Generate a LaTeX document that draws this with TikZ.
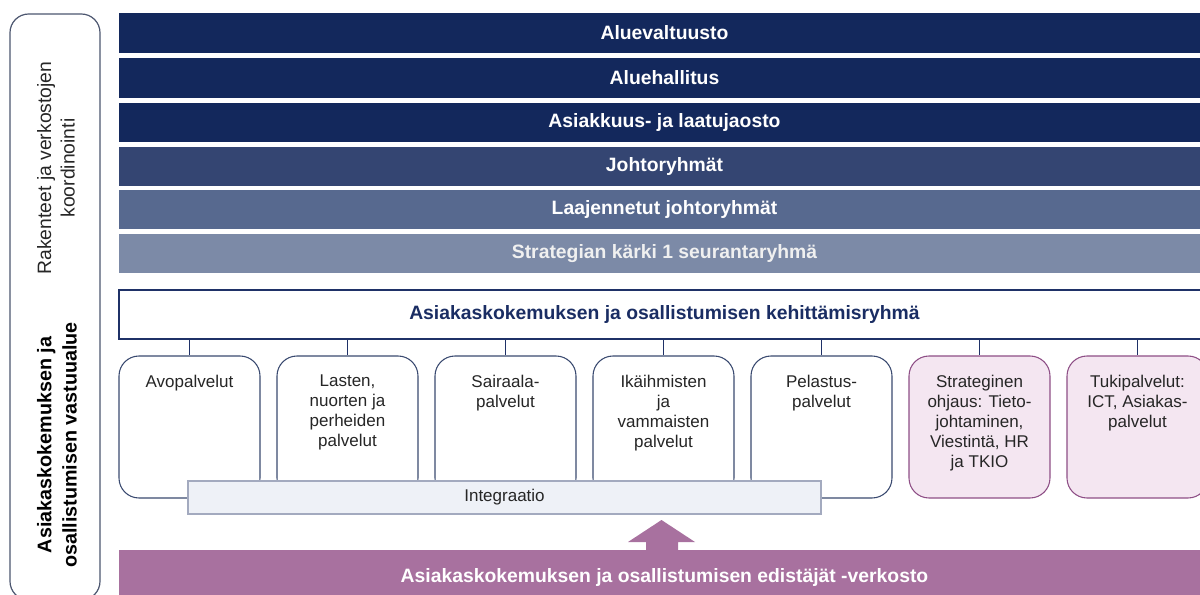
\documentclass[tikz,border=0pt]{standalone}
\usepackage{fontspec}
\setmainfont{Liberation Sans}
\definecolor{navyA}{HTML}{13285C}
\definecolor{navyB}{HTML}{344572}
\definecolor{navyC}{HTML}{57698F}
\definecolor{navyD}{HTML}{7C8AA7}
\definecolor{devline}{HTML}{1F3167}
\definecolor{devtext}{HTML}{1A2D63}
\definecolor{boxline}{HTML}{3A4A70}
\definecolor{purpbar}{HTML}{A8719F}
\definecolor{purpfill}{HTML}{F4E6F1}
\definecolor{purpline}{HTML}{8E4F86}
\definecolor{intfill}{HTML}{EEF1F7}
\definecolor{intline}{HTML}{A3AABF}
\definecolor{leftline}{HTML}{4C566F}
\definecolor{textgray}{HTML}{262626}
\begin{document}
\begin{tikzpicture}[x=0.75pt,y=-0.75pt,
  bar/.style={rectangle, minimum width=818.25pt, minimum height=29.6pt, inner sep=0pt, text=white, font=\bfseries\fontsize{14.5}{17}\selectfont},
  svc/.style={draw=boxline, line width=0.8pt, rounded corners=15pt, fill=white, minimum width=105.75pt, minimum height=106.5pt, inner sep=0pt},
  svcp/.style={svc, draw=purpline, fill=purpfill},
  stxt/.style={anchor=north, align=center, inner sep=0pt, font=\fontsize{12.75}{15}\selectfont, text=textgray},
  conn/.style={draw=devline, line width=0.9pt}
]
\useasboundingbox (0,0) rectangle (1200,595);
\clip (0,0) rectangle (1200,595);

% left frame
\draw[leftline, line width=0.9pt, rounded corners=14pt] (10,14) rectangle (100,600);
\node[rotate=90, align=center, inner sep=0pt, text=textgray, font=\fontsize{14.5}{17.5}\selectfont] (lefttop) at (56,168) {Rakenteet ja verkostojen\\koordinointi};
\node[rotate=90, align=center, inner sep=0pt, text=black, font=\bfseries\fontsize{14.8}{19}\selectfont] (leftbot) at (57,445) {Asiakaskokemuksen ja\\osallistumisen vastuualue};

% bars
\node[bar, fill=navyA, minimum height=30pt] (b1) at (664.5,33) {Aluevaltuusto};
\node[bar, fill=navyA, minimum height=30pt] (b2) at (664.5,78) {Aluehallitus};
\node[bar, fill=navyA] (b3) at (664.5,122.5) {Asiakkuus- ja laatujaosto};
\node[bar, fill=navyB] (b4) at (664.5,166.5) {Johtoryhmät};
\node[bar, fill=navyC] (b5) at (664.5,209.5) {Laajennetut johtoryhmät};
\node[bar, fill=navyD, text=white!94!black] (b6) at (664.5,253.5) {Strategian kärki 1 seurantaryhmä};

% development group
\node[draw=devline, line width=1.1pt, fill=white, minimum width=818.25pt, minimum height=36.75pt, inner sep=0pt, text=devtext, font=\bfseries\fontsize{14.5}{17}\selectfont] (dev) at (664.5,314.5) {Asiakaskokemuksen ja osallistumisen kehittämisryhmä};

% service boxes
\node[svc] (s1) at (189.5,427) {};
\node[svc] (s2) at (347.5,427) {};
\node[svc] (s3) at (505.5,427) {};
\node[svc] (s4) at (663.5,427) {};
\node[svc] (s5) at (821.5,427) {};
\node[svcp] (s6) at (979.5,427) {};
\node[svcp] (s7) at (1137.5,427) {};

\foreach \s in {s1,s2,s3,s4,s5,s6,s7}{
  \draw[conn] (dev.south -| \s.north) -- (\s.north);
}

\node[stxt] (t1) at ([yshift=-14.25pt]s1.north) {Avopalvelut};
\node[stxt] (t2) at ([yshift=-14.25pt]s2.north) {Lasten,\\nuorten ja\\perheiden\\palvelut};
\node[stxt] (t3) at ([yshift=-14.25pt]s3.north) {Sairaala-\\palvelut};
\node[stxt] (t4) at ([yshift=-14.25pt]s4.north) {Ikäihmisten\\ja\\vammaisten\\palvelut};
\node[stxt] (t5) at ([yshift=-14.25pt]s5.north) {Pelastus-\\palvelut};
\node[stxt] (t6) at ([yshift=-14.25pt]s6.north) {Strateginen\\ohjaus: Tieto-\\johtaminen,\\Viestintä, HR\\ja TKIO};
\node[stxt] (t7) at ([yshift=-14.25pt]s7.north) {Tukipalvelut:\\ICT, Asiakas-\\palvelut};

% integration
\node[draw=intline, line width=0.8pt, fill=intfill, minimum width=474.75pt, minimum height=24.75pt, inner sep=0pt, text=textgray, font=\fontsize{12.75}{15}\selectfont] (integ) at (504.5,497.5) {Integraatio};

% bottom network bar
\node[rectangle, fill=purpbar, minimum width=818.25pt, minimum height=40.5pt, inner sep=0pt, text=white, font=\bfseries\fontsize{14.5}{17}\selectfont] (net) at (664.5,577) {Asiakaskokemuksen ja osallistumisen edistäjät -verkosto};

% arrow from network to integration
\fill[purpbar] (646,551) -- (646,542) -- (628,542) -- (661.5,520) -- (695,542) -- (678,542) -- (678,551) -- cycle;
\end{tikzpicture}
\end{document}
